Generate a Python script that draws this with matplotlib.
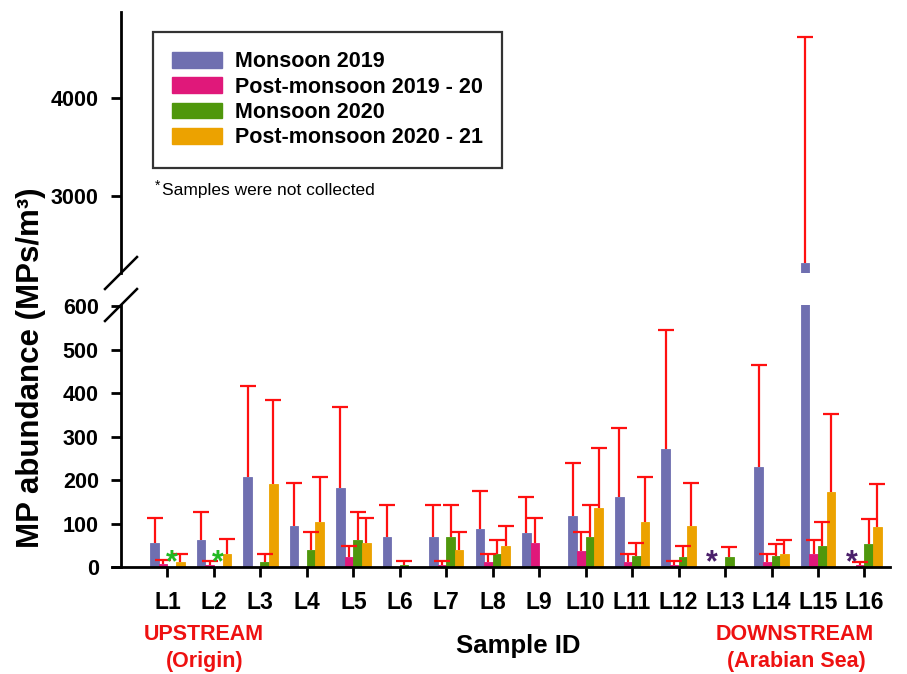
import numpy as np
import matplotlib
matplotlib.use("Agg")
import matplotlib.pyplot as plt
from matplotlib.patches import Patch
from matplotlib.lines import Line2D

plt.rcParams['font.family'] = ['Liberation Sans', 'DejaVu Sans']
plt.rcParams['font.weight'] = 'bold'

# ---------------- data ----------------
samples = ["L1", "L2", "L3", "L4", "L5", "L6", "L7", "L8",
           "L9", "L10", "L11", "L12", "L13", "L14", "L15", "L16"]
series_names = ["Monsoon 2019", "Post-monsoon 2019 - 20",
                "Monsoon 2020", "Post-monsoon 2020 - 21"]
nan = np.nan
monsoon_2019 = [55, 62, 206, 94, 182, 70, 70, 87, 79, 118, 160, 272, nan, 230, 2315, nan]
monsoon_2019_err = [57, 64, 211, 99, 187, 73, 73, 89, 81, 121, 160, 273, nan, 235, 2310, nan]
post_2019_20 = [6, 5, 0, 0, 22, 0, 5, 12, 55, 37, 12, 5, 0, 11, 29, 4]
post_2019_20_err = [10, 9, 0, 0, 27, 0, 9, 19, 57, 43, 19, 9, 0, 19, 32, 8]
monsoon_2020 = [nan, nan, 12, 38, 62, 4, 70, 30, 0, 70, 25, 22, 22, 25, 49, 53]
monsoon_2020_err = [nan, nan, 19, 42, 64, 10, 73, 32, 0, 73, 30, 26, 25, 28, 54, 58]
post_2020_21 = [12, 30, 191, 103, 55, 0, 38, 48, 0, 135, 103, 94, 0, 29, 173, 92]
post_2020_21_err = [19, 34, 194, 104, 57, 0, 42, 46, 0, 138, 104, 99, 0, 32, 179, 99]

values = [monsoon_2019, post_2019_20, monsoon_2020, post_2020_21]
errors = [monsoon_2019_err, post_2019_20_err, monsoon_2020_err, post_2020_21_err]
colors = ["#6f6fb0", "#e0187a", "#4f970c", "#eca200"]
star_colors = ["#4a1f6a", "#e0187a", "#22b822", "#eca200"]

lower_ticks = [0, 100, 200, 300, 400, 500, 600]
upper_ticks = [3000, 4000]

# ---------------- figure ----------------
W, H = 907, 674
fig = plt.figure(figsize=(W / 100, H / 100), dpi=100)

def fx(px):
    return px / W

def fy(py):
    return 1 - py / H

left, right = 121, 890
ax_low = fig.add_axes([fx(left), fy(567), fx(right - left), (567 - 305) / H])
ax_up = fig.add_axes([fx(left), fy(273), fx(right - left), (273 - 12) / H])

x = np.arange(len(samples))
bw = 0.185
for ax in (ax_low, ax_up):
    for i, (vals, errs, col) in enumerate(zip(values, errors, colors)):
        v = np.array(vals, dtype=float)
        e = np.array(errs, dtype=float)
        xs = x + (i - 1.5) * bw
        ok = ~np.isnan(v)
        ax.bar(xs[ok], v[ok], width=bw, color=col, edgecolor=col, linewidth=0.6, zorder=2)
        m = ok & (v > 0) & (e > 0)
        eb = ax.errorbar(xs[m], v[m], yerr=[np.zeros(m.sum()), e[m]], fmt='none',
                         ecolor='#ff1010', elinewidth=1.6, capsize=6, capthick=1.6, zorder=3)
        for cl in eb[1]:
            if np.allclose(cl.get_ydata(), v[m]):
                cl.set_visible(False)
    ax.set_xlim(-1.0, 15.55)
    for s in ('top', 'right'):
        ax.spines[s].set_visible(False)
    ax.spines['left'].set_linewidth(2.0)

# asterisks for samples not collected
for i, (vals, sc) in enumerate(zip(values, star_colors)):
    for j, v in enumerate(vals):
        if np.isnan(v):
            ax_low.annotate("*", xy=(x[j] + (i - 1.5) * bw, 0), xytext=(0, -3),
                            textcoords='offset points', ha='center', va='baseline',
                            fontsize=22, fontweight='bold', color=sc, zorder=4)

ax_low.set_ylim(0, 603)
ax_low.set_yticks(lower_ticks)
ax_low.set_xticks(x)
ax_low.set_xticklabels(samples)
ax_low.spines['bottom'].set_linewidth(2.0)
ax_low.spines['bottom'].set_bounds(-1.19, 15.55)
ax_low.tick_params(axis='x', direction='out', length=7, width=2, pad=10, labelsize=16.5)
ax_low.tick_params(axis='y', direction='out', length=7, width=2, pad=9, labelsize=15.5)

ax_up.set_ylim(2214, 4878)
ax_up.set_yticks(upper_ticks)
ax_up.spines['bottom'].set_visible(False)
ax_up.set_xticks([])
ax_up.tick_params(axis='y', direction='out', length=7, width=2, pad=9, labelsize=15.5)

# break marks
for yb in (273, 305):
    fig.add_artist(Line2D([fx(left - 16), fx(left + 16)], [fy(yb + 16), fy(yb - 16)],
                          transform=fig.transFigure, color='black', lw=1.8))

# labels
fig.text(fx(31), fy(368), "MP abundance (MPs/m³)", rotation=90, ha='center', va='center',
         fontsize=22.5, fontweight='bold')
fig.text(fx(518), fy(646), "Sample ID", ha='center', va='center', fontsize=18.5, fontweight='bold')
fig.text(fx(204), fy(635), "UPSTREAM", ha='center', va='center', fontsize=15.5,
         fontweight='bold', color='#ee1111')
fig.text(fx(205), fy(661), "(Origin)", ha='center', va='center', fontsize=15.5,
         fontweight='bold', color='#ee1111')
fig.text(fx(795), fy(635), "DOWNSTREAM", ha='center', va='center', fontsize=15.5,
         fontweight='bold', color='#ee1111')
fig.text(fx(796), fy(661), "(Arabian Sea)", ha='center', va='center', fontsize=15.5,
         fontweight='bold', color='#ee1111')

# legend
handles = [Patch(facecolor=c, edgecolor=c) for c in colors]
leg = fig.legend(handles, series_names, loc='upper left',
                 bbox_to_anchor=(fx(153), fy(32)), bbox_transform=fig.transFigure,
                 borderaxespad=0, fancybox=False, frameon=True,
                 prop={'weight': 'bold', 'size': 15.5},
                 handlelength=2.3, handleheight=0.75, handletextpad=0.6,
                 labelspacing=0.2, borderpad=0.9)
leg.get_frame().set_edgecolor('black')
leg.get_frame().set_linewidth(1.6)

fig.text(fx(155), fy(186), "*", ha='left', va='center', fontsize=10, fontweight='normal')
fig.text(fx(162), fy(190), "Samples were not collected", ha='left', va='center',
         fontsize=12.5, fontweight='normal')

fig.savefig("out.png", dpi=100)
